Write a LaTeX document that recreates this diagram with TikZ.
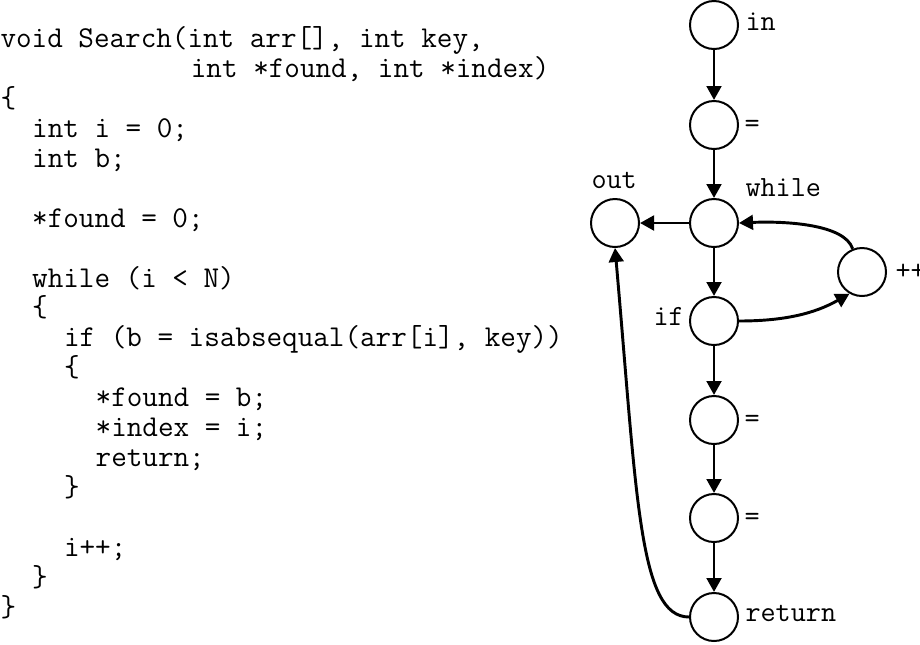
\documentclass[tikz,border=0pt]{standalone}
\usetikzlibrary{arrows.meta}
\tikzset{every picture/.style={line width=0.75pt}}
\tikzset{
  vertex/.style={draw, circle, minimum size=36pt, inner sep=0pt, line width=1.5pt},
  conn/.style={-{Triangle[length=10.5pt,width=11pt]}, line width=2.2pt},
  codeline/.style={anchor=base west, inner sep=0pt, font=\fontsize{22.7}{27}\selectfont\ttfamily},
  vlabel/.style={anchor=base west, inner sep=0pt, font=\fontsize{22}{26}\selectfont\ttfamily}
}
\frenchspacing

\begin{document}
\begin{tikzpicture}[x=0.75pt,y=0.75pt,yscale=-1,xscale=1]
\useasboundingbox (0,0) rectangle (920,644);

% Text Node
\node[codeline] (c1) at (0,47.5) {void Search(int arr[], int key,};
% Text Node
\node[codeline] (c2) at (190.4,77.4) {int *found, int *index)};
% Text Node
\node[codeline] (c3) at (0,107.4) {\{};
% Text Node
\node[codeline] (c4) at (31.7,137.3) {int i = 0;};
% Text Node
\node[codeline] (c5) at (31.7,167.2) {int b;};
% Text Node
\node[codeline] (c7) at (31.7,227.1) {*found = 0;};
% Text Node
\node[codeline] (c9) at (31.7,287) {while (i < N)};
% Text Node
\node[codeline] (c10) at (31.7,316.9) {\{};
% Text Node
\node[codeline] (c11) at (63.5,346.8) {if (b = isabsequal(arr[i], key))};
% Text Node
\node[codeline] (c12) at (63.5,376.7) {\{};
% Text Node
\node[codeline] (c13) at (95.2,406.7) {*found = b;};
% Text Node
\node[codeline] (c14) at (95.2,436.6) {*index = i;};
% Text Node
\node[codeline] (c15) at (95.2,466.5) {return;};
% Text Node
\node[codeline] (c16) at (63.5,496.4) {\}};
% Text Node
\node[codeline] (c18) at (63.5,556.3) {i++;};
% Text Node
\node[codeline] (c19) at (31.7,586.2) {\}};
% Text Node
\node[codeline] (c20) at (0,616.2) {\}};

% Vertices
\node[vertex] (vin) at (714,25) {};
\node[vertex] (veqa) at (714,125) {};
\node[vertex] (vwhile) at (714,223) {};
\node[vertex] (vout) at (615,223) {};
\node[vertex] (vinc) at (862,272) {};
\node[vertex] (vif) at (714,321) {};
\node[vertex] (veqb) at (714,420) {};
\node[vertex] (veqc) at (714,518) {};
\node[vertex] (vret) at (714,617) {};

% Vertex labels
\node[vlabel] (lin) at (745,30) {in};
\node[vlabel] (leqa) at (744,132) {=};
\node[vlabel] (lwhile) at (745,196.5) {while};
\node[vlabel] (lout) at (591,188) {out};
\node[vlabel] (linc) at (895,279) {++};
\node[vlabel] (lif) at (653,325) {if};
\node[vlabel] (leqb) at (744,427) {=};
\node[vlabel] (leqc) at (744,525) {=};
\node[vlabel] (lret) at (745,621.5) {return};

% Connection
\draw[conn] (vin) -- (veqa);
% Connection
\draw[conn] (veqa) -- (vwhile);
% Connection
\draw[conn] (vwhile) -- (vout);
% Connection
\draw[conn] (vwhile) -- (vif);
% Connection
\draw[conn] (vif.east) .. controls +(45,0) and +(-35,20) .. (vinc.240);
% Connection
\draw[conn] (vinc.112) .. controls +(-8,-25) and +(45,-2) .. (vwhile.east);
% Connection
\draw[conn] (vif) -- (veqb);
% Connection
\draw[conn] (veqb) -- (veqc);
% Connection
\draw[conn] (veqc) -- (vret);
% Connection
\draw[conn] (vret.west) .. controls +(-50,0) and +(22,250) .. (vout.south);

\end{tikzpicture}
\end{document}
